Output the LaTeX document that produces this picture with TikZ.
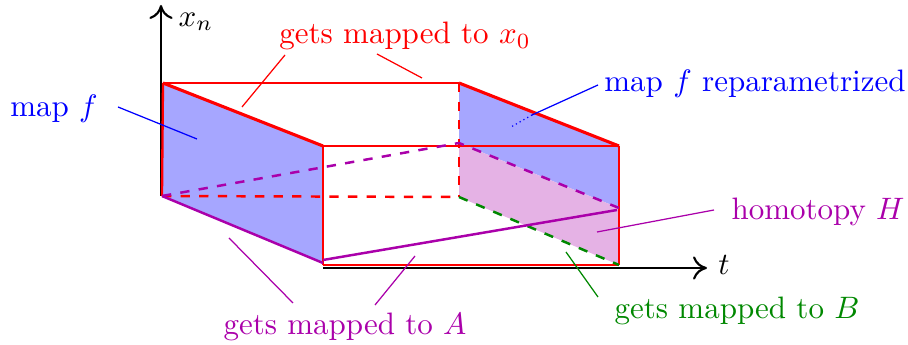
\documentclass[tikz,border=0pt]{standalone}
\usepackage{amsmath,amssymb}
\usetikzlibrary{arrows.meta,positioning,calc}
\definecolor{mapblue}{RGB}{0,0,255}
\definecolor{mappurple}{RGB}{170,0,170}
\definecolor{mapgreen}{RGB}{0,136,0}
\definecolor{mapred}{RGB}{255,0,0}
\begin{document}
\begin{tikzpicture}[x=0.3226pt, y=-0.3226pt,
    edge/.style={mapred, line width=0.75pt},
    heavy/.style={mapred, line width=1pt},
    hidden/.style={mapred, line width=0.8pt, dashed},
    leader/.style={line width=0.4pt},
    axis/.style={-{Computer Modern Rightarrow[length=4.5pt,width=7.5pt,line width=0.7pt]}, black, line width=0.85pt},
    label/.style={inner sep=0pt}
]
    \useasboundingbox (0,0) rectangle (908,345);

    % corners of the box
    \coordinate (a) at (163,83);
    \coordinate (b) at (162,196);
    \coordinate (c) at (323,146);
    \coordinate (d) at (323,263);
    \coordinate (d2) at (323,265);
    \coordinate (d3) at (323,260);
    \coordinate (e) at (459,83);
    \coordinate (f) at (459,197);
    \coordinate (g) at (619,146);
    \coordinate (h) at (619,265);
    \coordinate (m) at (459,143);
    \coordinate (n) at (619,208);
    \coordinate (n2) at (617,210);

    \fill[blue!35] (a) -- (c) -- (d) -- (b) -- cycle;
    \fill[blue!35] (e) -- (g) -- (n) -- (m) -- cycle;
    \fill[mappurple!30] (m) -- (n) -- (h) -- (f) -- cycle;

    % axes
    \coordinate (o) at (161,196);
    \coordinate (xtip) at (161,5);
    \coordinate (tstart) at (323,268);
    \coordinate (ttip) at (707,268);
    \draw[axis] (o) -- (xtip);
    \draw[axis] (tstart) -- (ttip);
    \node[label] (xn) at (196,22) {$x_n$};
    \node[label] (t) at (724,265) {$t$};

    % box
    \draw[edge] (a) -- (e);
    \draw[edge] (c) -- (g);
    \draw[edge] (d2) -- (h);
    \draw[edge] (a) -- (b);
    \draw[edge] (c) -- (d2);
    \draw[edge] (g) -- (h);
    \draw[heavy] (a) -- (c);
    \draw[heavy] (e) -- (g);
    \draw[hidden] (b) -- (f);
    \draw[hidden] (e) -- (f);
    \draw[mapgreen, line width=0.8pt, dashed] (f) -- (h);

    % homotopy path
    \draw[mappurple, line width=0.8pt, dashed] (b) -- (m) -- (n);
    \draw[mappurple, line width=0.8pt] (b) -- (d);
    \draw[mappurple, line width=0.8pt] (d3) -- (n2);

    % labels
    \node[label, text=mapred] (xlabel) at (405,36) {gets mapped to $x_0$};
    \node[label, text=mapblue] (flabel) at (54,109) {map $f$};
    \node[label, text=mapblue] (rlabel) at (755,84) {map $f$ reparametrized};
    \node[label, text=mappurple] (hlabel) at (818,212) {homotopy $H$};
    \node[label, text=mapgreen] (blabel) at (737,311) {gets mapped to $B$};
    \node[label, text=mappurple] (alabel) at (345,327) {gets mapped to $A$};

    % leader lines
    \coordinate (l1) at (285,55);
    \coordinate (l2) at (242,107);
    \coordinate (l3) at (377,54);
    \coordinate (l4) at (422,78);
    \coordinate (l5) at (118,107);
    \coordinate (l6) at (197,139);
    \coordinate (l7) at (598,85);
    \coordinate (l8) at (532,115);
    \coordinate (l9) at (511,127);
    \coordinate (l10) at (714,210);
    \coordinate (l11) at (597,232);
    \coordinate (l12) at (566,252);
    \coordinate (l13) at (598,297);
    \coordinate (l14) at (229,238);
    \coordinate (l15) at (293,303);
    \coordinate (l16) at (415,256);
    \coordinate (l17) at (375,305);
    \draw[leader, mapred] (l1) -- (l2);
    \draw[leader, mapred] (l3) -- (l4);
    \draw[leader, mapblue] (l5) -- (l6);
    \draw[leader, mapblue] (l7) -- (l8);
    \draw[leader, mapblue, densely dotted] (l8) -- (l9);
    \draw[leader, mappurple] (l10) -- (l11);
    \draw[leader, mapgreen] (l12) -- (l13);
    \draw[leader, mappurple] (l14) -- (l15);
    \draw[leader, mappurple] (l16) -- (l17);
\end{tikzpicture}
\end{document}
